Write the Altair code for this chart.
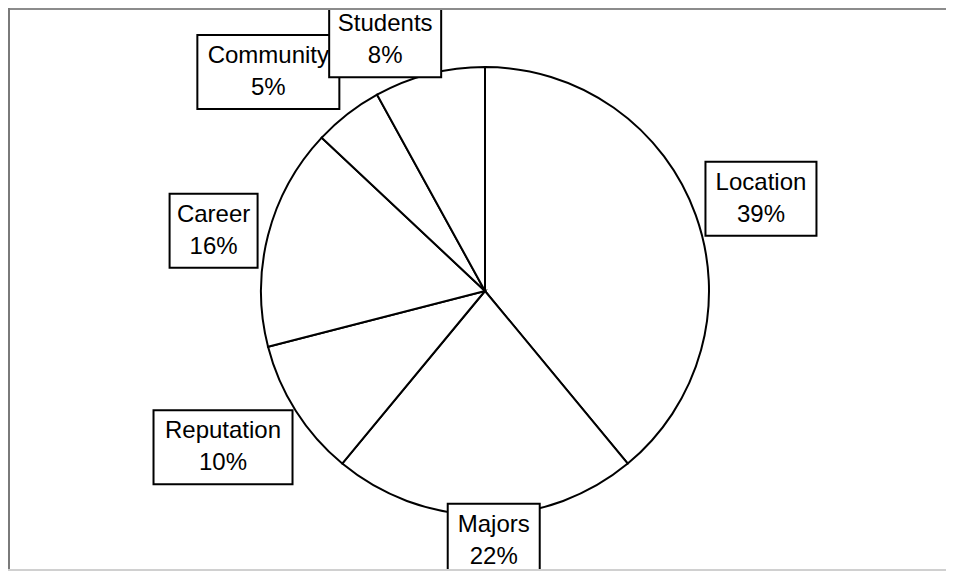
import math
import altair as alt
import pandas as pd

# ---- data ----
categories = ["Location", "Majors", "Reputation", "Career", "Community", "Students"]
values = [39, 22, 10, 16, 5, 8]

# ---- layout (label placement, box sizes) ----
label_radius = [291, 250, 305, 278, 308, 270]      # distance of label centre from pie centre
label_angle_nudge = [1.3, -2.0, 1.6, -1.9, -6.9, -7.3]  # degrees, to avoid overlaps
box_width = [111, 92, 139, 88, 142, 112]
box_height = 74

W, H = 938, 563
CX, CY = 477, 283  # pie centre inside the plot area
R = 224

total = sum(values)
rows_pie = []
rows_lab = []
cum = 0
for i, (c, v) in enumerate(zip(categories, values)):
    mid = (cum + v / 2) / total * 360 + label_angle_nudge[i]
    cum += v
    a = math.radians(mid)
    dx = label_radius[i] * math.sin(a)
    dy = -label_radius[i] * math.cos(a)
    rows_pie.append({"category": c, "value": v, "idx": i, "cx": 0, "cy": 0})
    rows_lab.append({
        "category": c,
        "label": f"{c}\n{v}%",
        "lx": dx, "ly": dy,
        "x0": dx - box_width[i] / 2, "x1": dx + box_width[i] / 2,
        "y0": dy - box_height / 2, "y1": dy + box_height / 2,
    })

pie_df = pd.DataFrame(rows_pie)
lab_df = pd.DataFrame(rows_lab)

xs = alt.Scale(domain=[-CX, W - CX], nice=False, zero=False)
ys = alt.Scale(domain=[-CY, H - CY], nice=False, zero=False, reverse=True)

pie = alt.Chart(pie_df).mark_arc(
    radius=R, fill="white", stroke="black", strokeWidth=2
).encode(
    theta=alt.Theta("value:Q", stack=True),
    order=alt.Order("idx:Q"),
    x=alt.X("cx:Q", scale=xs, axis=None),
    y=alt.Y("cy:Q", scale=ys, axis=None),
)

boxes = alt.Chart(lab_df).mark_rect(
    fill="white", stroke="black", strokeWidth=2
).encode(
    x=alt.X("x0:Q", scale=xs, axis=None),
    x2="x1:Q",
    y=alt.Y("y0:Q", scale=ys, axis=None),
    y2="y1:Q",
)

texts = alt.Chart(lab_df).mark_text(
    font="Liberation Sans", fontSize=24, lineHeight=32, lineBreak="\n",
    align="center", baseline="middle", color="black", dy=-16
).encode(
    x=alt.X("lx:Q", scale=xs, axis=None),
    y=alt.Y("ly:Q", scale=ys, axis=None),
    text="label:N",
)

frame_top = alt.Chart(pd.DataFrame({"k": [0]})).mark_rule(color="#8c8c8c", strokeWidth=2).encode(
    x=alt.value(0), x2=alt.value(W), y=alt.value(1)
)
frame_left = alt.Chart(pd.DataFrame({"k": [0]})).mark_rule(color="#7a7a7a", strokeWidth=2).encode(
    x=alt.value(1), y=alt.value(0), y2=alt.value(H)
)
frame_bottom = alt.Chart(pd.DataFrame({"k": [0]})).mark_rule(color="#d0d0d0", strokeWidth=2).encode(
    x=alt.value(0), x2=alt.value(W), y=alt.value(H - 1)
)

chart = alt.layer(pie, boxes, texts, frame_top, frame_left, frame_bottom).properties(
    width=W, height=H, padding=0, autosize=alt.AutoSizeParams(type="none")
).configure_view(stroke=None).configure(background="white")

chart.save("out.html", embed_options={"renderer": "svg", "actions": False})
